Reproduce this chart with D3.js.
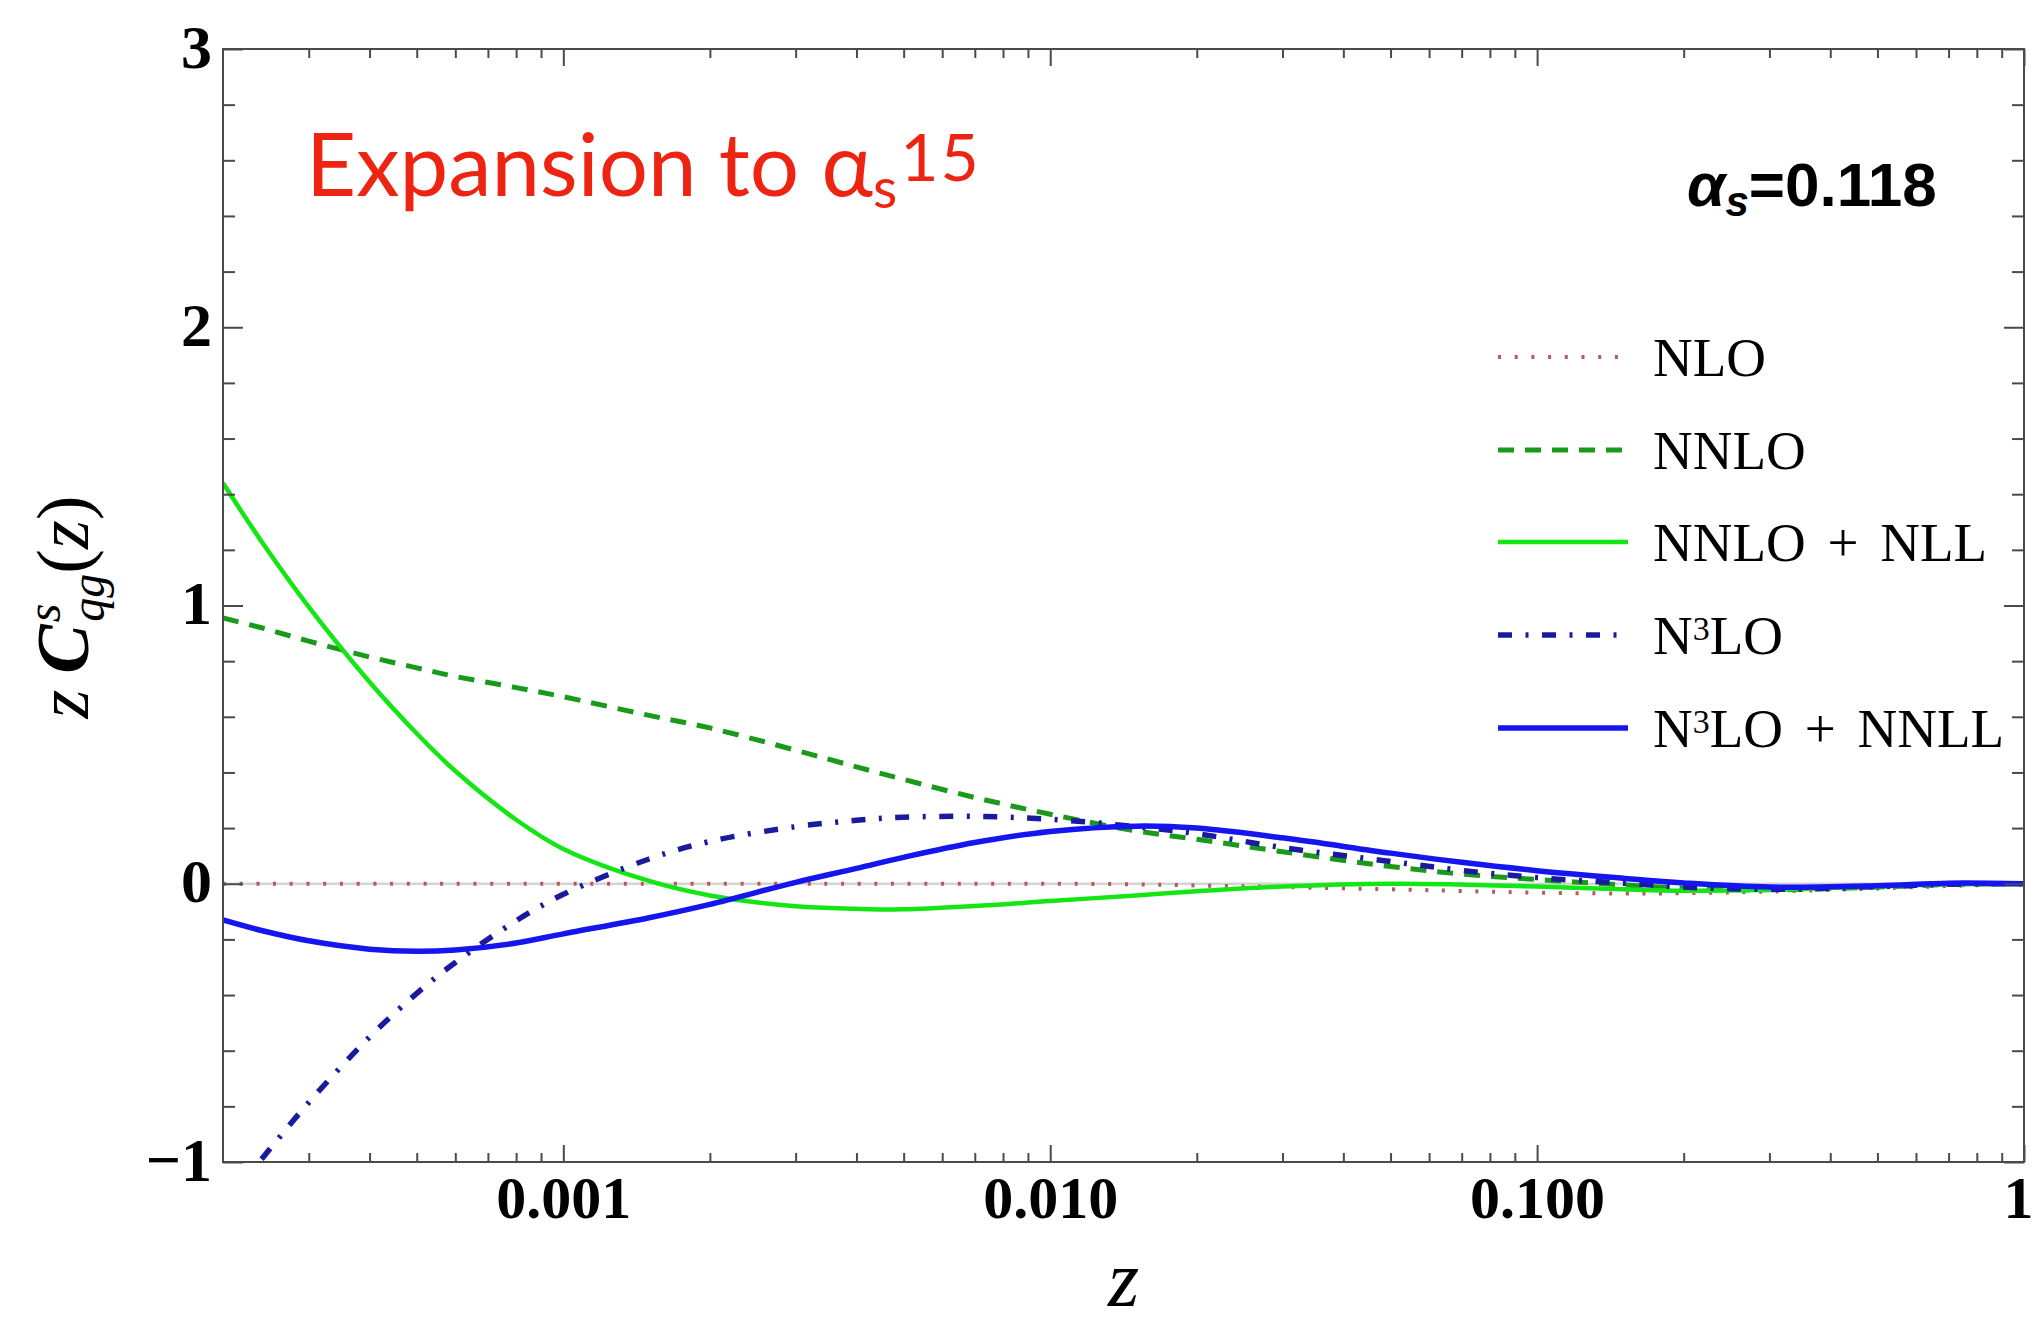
<!DOCTYPE html>
<html><head><meta charset="utf-8">
<script src="https://cdn.jsdelivr.net/npm/d3@7"></script>
<style>body{margin:0;background:#fff;overflow:hidden}</style>
</head><body>
<svg id="chart" width="2034" height="1329"></svg>
<script>
// ---------------- DATA ----------------
const zValues = [0.0002, 0.00024, 0.0003, 0.0004, 0.0005, 0.0006, 0.0008, 0.001, 0.0015, 0.002, 0.003, 0.004, 0.005, 0.007, 0.01, 0.015, 0.02, 0.03, 0.05, 0.07, 0.1, 0.15, 0.2, 0.3, 0.5, 0.7, 1];
const nloValues = [0, 0, 0, 0, 0, 0, 0, 0, 0, 0, 0, 0, 0, 0, 0, -0.002, -0.006, -0.012, -0.02, -0.026, -0.032, -0.035, -0.034, -0.028, -0.017, -0.008, 0];
const nnloValues = [0.955, 0.92, 0.872, 0.815, 0.776, 0.745, 0.705, 0.672, 0.605, 0.56, 0.48, 0.42, 0.375, 0.31, 0.25, 0.19, 0.16, 0.115, 0.062, 0.035, 0.015, -0.004, -0.016, -0.022, -0.012, -0.003, 0];
const nnloNllValues = [1.44, 1.23, 0.995, 0.725, 0.54, 0.405, 0.23, 0.125, 0.01, -0.042, -0.081, -0.09, -0.092, -0.08, -0.062, -0.042, -0.027, -0.01, 0.0, -0.003, -0.01, -0.02, -0.025, -0.022, -0.01, -0.002, 0.0];
const n3loValues = [null, -0.99, -0.786, -0.551, -0.394, -0.283, -0.133, -0.038, 0.089, 0.152, 0.205, 0.228, 0.239, 0.242, 0.232, 0.205, 0.18, 0.13, 0.08, 0.048, 0.022, 0.002, -0.012, -0.02, -0.01, -0.002, 0];
const n3loNnllValues = [-0.13, -0.168, -0.205, -0.235, -0.243, -0.238, -0.213, -0.18, -0.122, -0.074, 0.005, 0.055, 0.095, 0.148, 0.188, 0.207, 0.2, 0.165, 0.11, 0.077, 0.047, 0.02, 0.003, -0.012, -0.007, 0.002, 0];

const seriesNames = ["NLO", "NNLO", "NNLO + NLL", "N³LO", "N³LO + NNLL"];
const xMajorTicks = [0.001, 0.01, 0.1, 1];
const xTickLabels = ["0.001", "0.010", "0.100", "1"];
const yMajorTicks = [-1, 0, 1, 2, 3];
const yTickLabels = ["\u22121", "0", "1", "2", "3"];

// ---------------- STYLES ----------------
const styles = [
  {color: "#b65a5a", width: 4,   dash: "3,13.7"},
  {color: "#1a9a1a", width: 5,   dash: "16,11"},
  {color: "#14e614", width: 4.5, dash: null},
  {color: "#1a1aa0", width: 5.5, dash: "14,13.5,3,13.5"},
  {color: "#1515f0", width: 5.5, dash: null}
];
const seriesValues = [nloValues, nnloValues, nnloNllValues, n3loValues, n3loNnllValues];

const svg = d3.select("#chart");
const L = 223, R = 2024, T = 49, B = 1162;
const x = d3.scaleLog().domain([2e-4, 1]).range([L, R]);
const y = d3.scaleLinear().domain([-1, 3]).range([B, T]);

svg.append("defs").append("clipPath").attr("id", "plotclip")
  .append("rect").attr("x", L).attr("y", T).attr("width", R - L).attr("height", B - T);

// zero axis line (light gray)
svg.append("line").attr("x1", L).attr("x2", R).attr("y1", y(0)).attr("y2", y(0))
  .attr("stroke", "#d4d4d4").attr("stroke-width", 2.5);

// curves
const plot = svg.append("g").attr("clip-path", "url(#plotclip)");
seriesValues.forEach((vals, i) => {
  const pts = zValues.map((z, k) => ({z, v: vals[k]}));
  const line = d3.line()
    .defined(d => d.v !== null)
    .x(d => x(d.z)).y(d => y(d.v))
    .curve(d3.curveCatmullRom.alpha(0.5));
  plot.append("path").datum(pts)
    .attr("d", line)
    .attr("fill", "none")
    .attr("stroke", styles[i].color)
    .attr("stroke-width", styles[i].width)
    .attr("stroke-dasharray", styles[i].dash)
    .attr("stroke-linejoin", "round");
});

// ---------------- AXES ----------------
const tickColor = "#4a4a4a";
const xMinor = [];
[1e-4, 1e-3, 1e-2, 1e-1].forEach(b => { for (let k = 2; k <= 9; k++) { const v = +(k * b).toPrecision(3); if (v > 2e-4 && v < 1) xMinor.push(v); } });
const yMinor = d3.range(-5, 16).filter(i => i % 5 !== 0).map(i => i / 5);

function styleAxis(g) {
  g.select(".domain").remove();
  g.selectAll(".tick line").attr("stroke", tickColor).attr("stroke-width", 2);
}
const fmtX = (d) => xTickLabels[xMajorTicks.indexOf(d)];
const fmtY = (d) => yTickLabels[yMajorTicks.indexOf(d)];

// bottom
const gxb = svg.append("g").attr("transform", `translate(0,${B})`)
  .call(d3.axisBottom(x).tickValues(xMajorTicks).tickFormat(fmtX).tickSizeInner(-17).tickSizeOuter(0));
styleAxis(gxb);
gxb.selectAll(".tick text").attr("y", 56).attr("dy", null)
  .style("font-family", "'Liberation Serif', serif").style("font-weight", "bold").style("font-size", "60px").attr("fill", "#000");
// the last label sits at the right edge of the picture: keep it inside
gxb.selectAll(".tick text").filter(d => d === 1).attr("text-anchor", "end").attr("x", 9);
svg.append("g").attr("transform", `translate(0,${B})`)
  .call(d3.axisBottom(x).tickValues(xMinor).tickFormat("").tickSizeInner(-9).tickSizeOuter(0)).call(styleAxis);
// top
svg.append("g").attr("transform", `translate(0,${T})`)
  .call(d3.axisTop(x).tickValues(xMajorTicks).tickFormat("").tickSizeInner(-17).tickSizeOuter(0)).call(styleAxis);
svg.append("g").attr("transform", `translate(0,${T})`)
  .call(d3.axisTop(x).tickValues(xMinor).tickFormat("").tickSizeInner(-9).tickSizeOuter(0)).call(styleAxis);
// left
const gyl = svg.append("g").attr("transform", `translate(${L},0)`)
  .call(d3.axisLeft(y).tickValues(yMajorTicks).tickFormat(fmtY).tickSizeInner(-20).tickSizeOuter(0));
styleAxis(gyl);
gyl.selectAll(".tick text").attr("x", -11).attr("dy", 18)
  .style("font-family", "'Liberation Serif', serif").style("font-weight", "bold").style("font-size", "62px").attr("fill", "#000");
svg.append("g").attr("transform", `translate(${L},0)`)
  .call(d3.axisLeft(y).tickValues(yMinor).tickFormat("").tickSizeInner(-12).tickSizeOuter(0)).call(styleAxis);
// right
svg.append("g").attr("transform", `translate(${R},0)`)
  .call(d3.axisRight(y).tickValues(yMajorTicks).tickFormat("").tickSizeInner(-20).tickSizeOuter(0)).call(styleAxis);
svg.append("g").attr("transform", `translate(${R},0)`)
  .call(d3.axisRight(y).tickValues(yMinor).tickFormat("").tickSizeInner(-12).tickSizeOuter(0)).call(styleAxis);

// frame
svg.append("rect").attr("x", L).attr("y", T).attr("width", R - L).attr("height", B - T)
  .attr("fill", "none").attr("stroke", tickColor).attr("stroke-width", 2);

// ---------------- AXIS TITLES ----------------
svg.append("text").attr("x", (L + R) / 2).attr("y", 1306).attr("text-anchor", "middle")
  .style("font-family", "'Liberation Serif', serif").style("font-style", "italic").style("font-size", "80px").text("z");

const yl = svg.append("text").attr("transform", "translate(88,607) rotate(-90)").attr("text-anchor", "middle")
  .style("font-family", "'Liberation Serif', serif").style("font-size", "74px");
yl.append("tspan").style("font-style", "italic").text("z");
yl.append("tspan").attr("dx", 16).style("font-style", "italic").style("font-weight", "bold").text("C");
yl.append("tspan").attr("dx", 2).attr("dy", -28).style("font-size", "48px").style("font-style", "italic").text("s");
yl.append("tspan").attr("dx", -18).attr("dy", 44).style("font-size", "48px").style("font-style", "italic").text("qg");
yl.append("tspan").attr("dy", -16).text("(");
yl.append("tspan").style("font-style", "italic").text("z");
yl.append("tspan").text(")");

// ---------------- ANNOTATIONS ----------------
const ttl = svg.append("text").attr("x", 306).attr("y", 196).attr("fill", "#ee2412")
  .style("font-family", "Lato, 'Open Sans', sans-serif").style("font-size", "87px");
ttl.append("tspan").text("Expansion to \u03b1");
ttl.append("tspan").attr("dy", 12).style("font-size", "56px").text("s");
ttl.append("tspan").attr("dx", 3).attr("dy", -27).style("font-size", "66px").style("letter-spacing", "2px").text("15");

const as = svg.append("text").attr("x", 1687).attr("y", 206)
  .style("font-family", "'Liberation Sans', Arial, sans-serif").style("font-weight", "bold").style("font-size", "62px");
as.append("tspan").style("font-style", "italic").text("\u03b1");
as.append("tspan").attr("dy", 10).style("font-style", "italic").style("font-size", "42px").text("s");
as.append("tspan").attr("dy", -10).text("=0.118");

// ---------------- LEGEND ----------------
const legendY = [357, 450, 542, 635, 728];
seriesNames.forEach((name, i) => {
  const g = svg.append("g");
  g.append("line").attr("x1", 1498).attr("x2", 1628).attr("y1", legendY[i]).attr("y2", legendY[i])
    .attr("stroke", styles[i].color).attr("stroke-width", styles[i].width)
    .attr("stroke-dasharray", styles[i].dash);
  const t = g.append("text").attr("x", 1653).attr("y", legendY[i] + 19)
    .style("font-family", "'Liberation Serif', serif").style("font-size", "55px").style("word-spacing", "8px");
  const parts = name.split("³");
  if (parts.length === 1) {
    t.text(name);
  } else {
    t.append("tspan").text(parts[0]);
    t.append("tspan").attr("dy", -14).style("font-size", "34px").text("3");
    t.append("tspan").attr("dy", 14).text(parts[1]);
  }
});
</script>
</body></html>
